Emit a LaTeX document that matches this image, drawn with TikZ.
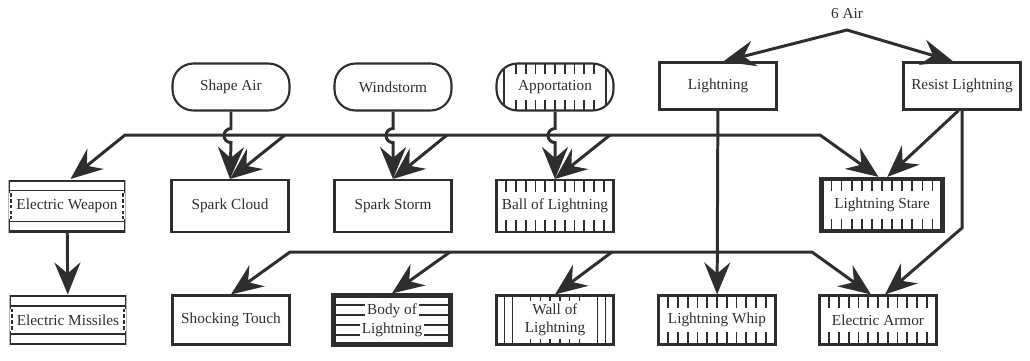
\documentclass[tikz,border=0pt]{standalone}
\usepackage{fontspec}
\setmainfont{Liberation Serif}
\usetikzlibrary{arrows.meta,calc}
\colorlet{ink}{black!82}
\newcommand\tickmarks[2]{\foreach \i in {#1}{\draw[ink,line width=0.9pt]
  ($(path picture bounding box.north west)!{\i/12}!(path picture bounding box.north east)$) -- ++(0pt,-#2)
  ($(path picture bounding box.south west)!{\i/12}!(path picture bounding box.south east)$) -- ++(0pt,#2);}}
\newcommand\sidebars[1]{\foreach \d in {#1}{\draw[ink,line width=1pt]
  ([xshift=\d]path picture bounding box.north west) -- ([xshift=\d]path picture bounding box.south west)
  ([xshift=-\d]path picture bounding box.north east) -- ([xshift=-\d]path picture bounding box.south east);}}
\newcommand\stripes{\foreach \f in {0.2,0.4,0.6,0.8}{\draw[ink,line width=1pt]
  ($(path picture bounding box.north west)!\f!(path picture bounding box.south west)$) --
  ($(path picture bounding box.north east)!\f!(path picture bounding box.south east)$);}}
\newcommand\bands{%
  \coordinate (ppnw) at (path picture bounding box.north west);
  \coordinate (ppne) at (path picture bounding box.north east);
  \coordinate (ppsw) at (path picture bounding box.south west);
  \coordinate (ppse) at (path picture bounding box.south east);
  \draw[ink,line width=2.2pt] (ppnw) rectangle (ppse);
  \draw[ink,line width=1pt] ([yshift=-6pt]ppnw) -- ([yshift=-6pt]ppne) ([yshift=6pt]ppsw) -- ([yshift=6pt]ppse);
  \fill[white] ([yshift=-7.5pt]ppnw) rectangle ([xshift=2pt,yshift=7.5pt]ppsw);
  \fill[white] ([yshift=-7.5pt]ppne) rectangle ([xshift=-2pt,yshift=7.5pt]ppse);
  \draw[ink,line width=1pt,dash pattern=on 2pt off 1.3pt] ([xshift=1.3pt,yshift=-7.5pt]ppnw) -- ([xshift=1.3pt,yshift=7.5pt]ppsw)
    ([xshift=-1.3pt,yshift=-7.5pt]ppne) -- ([xshift=-1.3pt,yshift=7.5pt]ppse);}
\tikzset{
  >={Stealth[length=0.64cm,width=0.52cm,inset=0.22cm]},
  conn/.style={draw=ink,line width=1.7pt},
  box/.style={draw=ink,line width=1.2pt,minimum width=2.34cm,minimum height=1cm,align=center,inner sep=1pt,text=ink,font=\fontsize{8.7}{10}\selectfont},
  toprow/.style={box,minimum height=0.94cm},
  pill/.style={toprow,rounded corners=0.42cm},
  heavy/.style={line width=2.4pt},
  ticks/.style={path picture={\tickmarks{#1}{7pt}}},
  ticks/.default={1,...,11},
  pillticks/.style={path picture={\tickmarks{2,...,10}{6pt}\sidebars{0.15cm}}},
  wallbars/.style={path picture={\tickmarks{3.5,4.5,...,8.5}{3pt}\sidebars{0.16cm,0.32cm}}},
  striped/.style={path picture={\stripes}},
  banded/.style={draw=none,path picture={\bands}},
  lbl/.style={text=ink,font=\fontsize{8.7}{10}\selectfont}
}
\begin{document}
\begin{tikzpicture}[x=0.02cm,y=-0.02cm]
\useasboundingbox (0,0) rectangle (1030,360);
\node[lbl,anchor=south,inner sep=6pt](air)at(847,30){6 Air};
\node[toprow](lightning)at(718,86){Lightning};
\node[toprow](resist)at(962,86){Resist Lightning};
\node[pill](shapeair)at(231,87){Shape Air};
\node[pill](windstorm)at(393,87){Windstorm};
\node[pill,pillticks](apport)at(555,87){Apportation};
\node[box,minimum height=1.04cm,banded](eweapon)at(67,206){Electric Weapon};
\node[box,minimum height=1.04cm](sparkcloud)at(230,206){Spark Cloud};
\node[box,minimum height=1.04cm](sparkstorm)at(393,206){Spark Storm};
\node[box,minimum height=1.04cm,ticks](ball)at(555,206){Ball of Lightning};
\node[box,heavy,minimum width=2.42cm,minimum height=1.04cm,ticks](lstare)at(882,205){Lightning Stare};
\node[box,minimum height=0.98cm,banded](emissiles)at(68,320){Electric Missiles};
\node[box,minimum height=0.98cm](stouch)at(231,320){Shocking Touch};
\node[box,heavy,minimum height=0.98cm,striped,font=\fontsize{8.7}{9}\selectfont\setlength{\fboxsep}{1pt}](body)at(392,320){\colorbox{white}{Body of}\\\colorbox{white}{Lightning}};
\node[box,minimum height=0.98cm,wallbars](wall)at(555,320){Wall of\\Lightning};
\node[box,minimum height=0.98cm,ticks](whip)at(717,320){Lightning Whip};
\node[box,minimum height=0.98cm,ticks](earmor)at(878,320){Electric Armor};
\coordinate(ua)at(125,135);\coordinate(ub)at(820,135);
\coordinate(u1)at(285,135);\coordinate(u2)at(447,135);\coordinate(u3)at(610,135);
\coordinate(la)at(290,252);\coordinate(lb)at(812,252);
\coordinate(l1)at(450,252);\coordinate(l2)at(612,252);
\coordinate(rb)at(962,228);
\draw[conn,<->]([xshift=3pt]lightning.north)--(air.south)--([xshift=-5pt]resist.north);
\draw[conn,<->]([xshift=2pt]eweapon.north)--(ua)--(ub)--([xshift=-2pt]lstare.north);
\draw[conn,->](u1)--(sparkcloud.north);
\draw[conn,->](u2)--(sparkstorm.north);
\draw[conn,->](u3)--(ball.north);
\draw[conn,->](shapeair.south)--++(0,17)arc[start angle=90,end angle=270,radius=4pt]--(sparkcloud.north);
\draw[conn,->](windstorm.south)--++(0,17)arc[start angle=90,end angle=270,radius=4pt]--(sparkstorm.north);
\draw[conn,->](apport.south)--++(0,17)arc[start angle=90,end angle=270,radius=4pt]--(ball.north);
\draw[conn,->](lightning)--(whip);
\draw[conn,->]([xshift=-2pt]resist.south)--([xshift=3pt]lstare.north);
\draw[conn,->](resist.south)--(rb)--([xshift=4pt]earmor.north);
\draw[conn,<->](stouch.north)--(la)--(lb)--([xshift=-4pt]earmor.north);
\draw[conn,->](l1)--(body.north);
\draw[conn,->](l2)--(wall.north);
\draw[conn,->](eweapon)--(emissiles);
\end{tikzpicture}
\end{document}
